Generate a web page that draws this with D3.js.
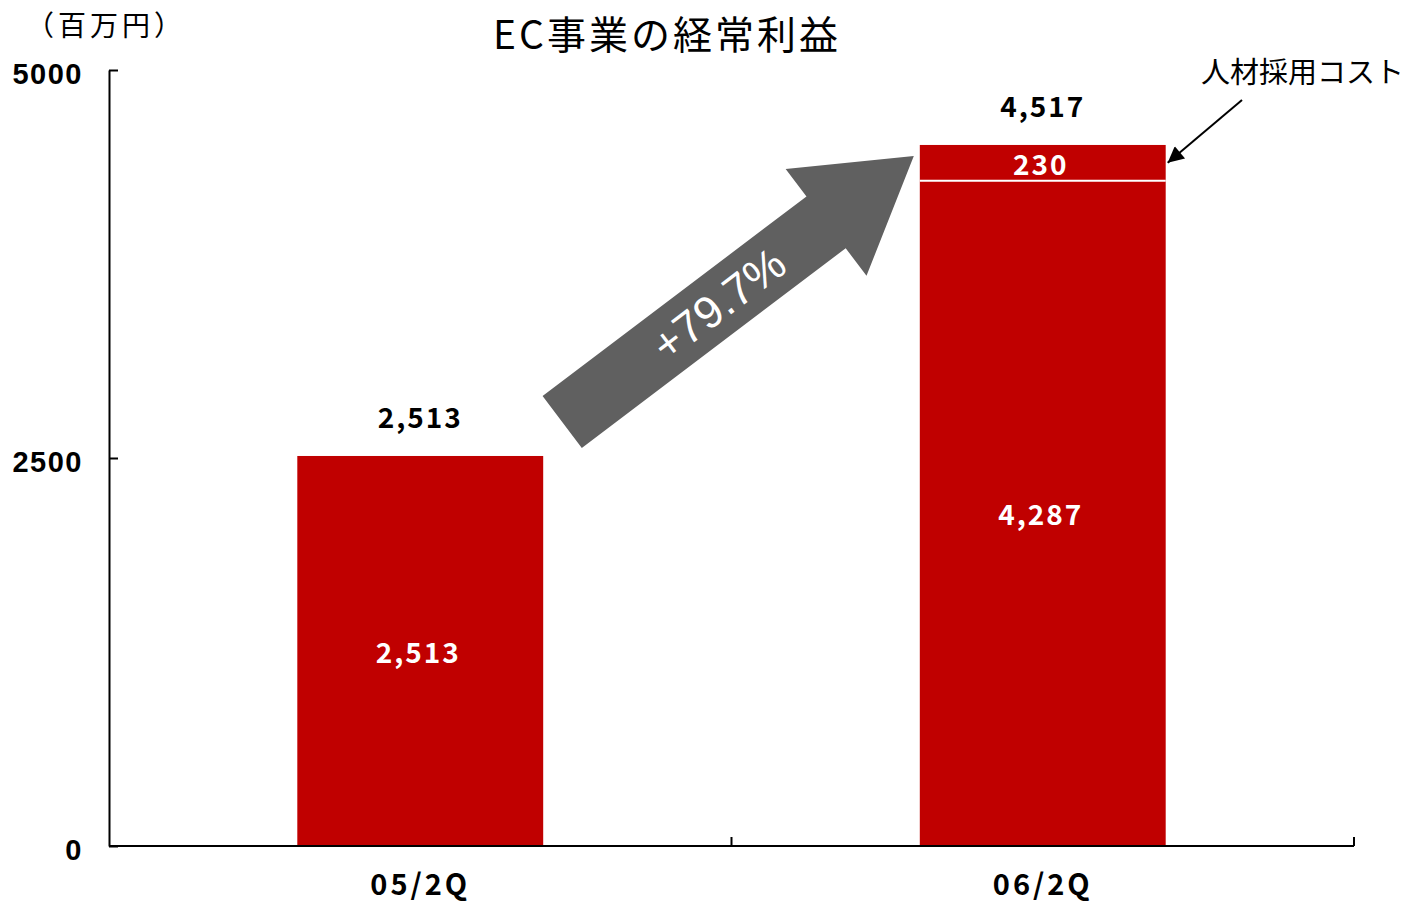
<!DOCTYPE html>
<html>
<head>
<meta charset="utf-8">
<script src="https://cdn.jsdelivr.net/npm/d3@7"></script>
<style>
  html, body { margin: 0; padding: 0; background: #fff; }
  svg { display: block; }
</style>
</head>
<body>
<svg id="chart" width="1406" height="904"></svg>
<script>
// Ordinary profit of the EC business (million yen)
const categories = ["05/2Q", "06/2Q"];
const baseProfit = [2513, 4287];      // profit excluding recruitment cost
const recruitCost = [0, 230];         // recruitment cost stacked on top
const totalProfit = [2513, 4517];     // labels above bars
const yTicks = [0, 2500, 5000];
const growthLabel = "+79.7%";
const title = "EC事業の経常利益";
const unitLabel = "（百万円）";
const costNote = "人材採用コスト";

const RED = "#c00000";
const GREY = "#606060";
const JP = "'Noto Sans CJK JP', 'Noto Sans', sans-serif";
const NUM = "'Noto Sans CJK JP', 'Liberation Sans', sans-serif";

const svg = d3.select("#chart");

const x = d3.scaleBand()
  .domain(categories)
  .range([109, 1354])
  .paddingInner(0.605)
  .paddingOuter(0.3025);

const y = d3.scaleLinear().domain([0, 5000]).range([846, 70]);

// Title and unit
svg.append("text")
  .attr("x", 667).attr("y", 49)
  .attr("text-anchor", "middle")
  .attr("font-family", JP).attr("font-size", 39)
  .attr("letter-spacing", 3)
  .text(title);

svg.append("text")
  .attr("x", 26).attr("y", 36)
  .attr("font-family", JP).attr("font-size", 28)
  .attr("letter-spacing", 4)
  .text(unitLabel);

// Stacked bars
const rows = categories.map((c, i) => ({ c, base: baseProfit[i], cost: recruitCost[i], total: totalProfit[i] }));

const g = svg.append("g");

g.selectAll("rect.base").data(rows).join("rect")
  .attr("class", "base")
  .attr("x", d => x(d.c))
  .attr("width", x.bandwidth())
  .attr("y", d => y(d.base))
  .attr("height", d => y(0) - y(d.base))
  .attr("fill", RED);

g.selectAll("rect.cost").data(rows.filter(d => d.cost > 0)).join("rect")
  .attr("class", "cost")
  .attr("x", d => x(d.c))
  .attr("width", x.bandwidth())
  .attr("y", d => y(d.base + d.cost))
  .attr("height", d => y(d.base) - y(d.base + d.cost))
  .attr("fill", RED);

// white separator between the segments
g.selectAll("line.sep").data(rows.filter(d => d.cost > 0)).join("line")
  .attr("class", "sep")
  .attr("x1", d => x(d.c)).attr("x2", d => x(d.c) + x.bandwidth())
  .attr("y1", d => y(d.base)).attr("y2", d => y(d.base))
  .attr("stroke", "#fff").attr("stroke-width", 2);

const fmt = d3.format(",");

// labels inside segments
g.selectAll("text.in-base").data(rows).join("text")
  .attr("x", d => x(d.c) + x.bandwidth() / 2 - 2)
  .attr("y", d => (y(0) + y(d.base)) / 2 + 12)
  .attr("text-anchor", "middle")
  .attr("fill", "#fff")
  .attr("font-family", NUM).attr("font-weight", "bold").attr("font-size", 28)
  .attr("letter-spacing", 2)
  .text(d => fmt(d.base));

g.selectAll("text.in-cost").data(rows.filter(d => d.cost > 0)).join("text")
  .attr("x", d => x(d.c) + x.bandwidth() / 2 - 2)
  .attr("y", d => (y(d.base) + y(d.base + d.cost)) / 2 + 12)
  .attr("text-anchor", "middle")
  .attr("fill", "#fff")
  .attr("font-family", NUM).attr("font-weight", "bold").attr("font-size", 28)
  .attr("letter-spacing", 2)
  .text(d => fmt(d.cost));

// totals above bars
g.selectAll("text.total").data(rows).join("text")
  .attr("x", d => x(d.c) + x.bandwidth() / 2)
  .attr("y", d => y(d.total) - 28)
  .attr("text-anchor", "middle")
  .attr("fill", "#000")
  .attr("font-family", NUM).attr("font-weight", "bold").attr("font-size", 28)
  .attr("letter-spacing", 2)
  .text(d => fmt(d.total));

// Y axis
const yAxis = d3.axisLeft(y)
  .tickValues(yTicks)
  .tickSizeInner(-9)
  .tickSizeOuter(0)
  .tickPadding(26)
  .tickFormat(d3.format("d"));

const ya = svg.append("g").attr("transform", `translate(${x.range()[0]},0)`).call(yAxis);
ya.select(".domain").attr("stroke", "#000").attr("stroke-width", 2);
ya.selectAll(".tick line").attr("stroke", "#000").attr("stroke-width", 2);
ya.selectAll(".tick text")
  .attr("font-family", "'Liberation Sans', Arial, sans-serif")
  .attr("font-weight", "bold").attr("font-size", 29)
  .attr("letter-spacing", 1.5)
  .attr("dy", "0.45em")
  .attr("fill", "#000");

// X axis: baseline with ticks at category boundaries
const step = x.step();
const bounds = categories.map(c => x(c) - (step - x.bandwidth()) / 2);
bounds.push(bounds[bounds.length - 1] + step);

svg.append("line")
  .attr("x1", x.range()[0]).attr("x2", x.range()[1])
  .attr("y1", y(0)).attr("y2", y(0))
  .attr("stroke", "#000").attr("stroke-width", 2);

svg.selectAll("line.xtick").data(bounds.slice(1)).join("line")
  .attr("x1", d => d).attr("x2", d => d)
  .attr("y1", y(0)).attr("y2", y(0) - 9)
  .attr("stroke", "#000").attr("stroke-width", 2);

svg.selectAll("text.cat").data(categories).join("text")
  .attr("x", c => x(c) + x.bandwidth() / 2)
  .attr("y", 895)
  .attr("text-anchor", "middle")
  .attr("font-family", NUM).attr("font-weight", "bold").attr("font-size", 29)
  .attr("letter-spacing", 3)
  .text(c => c);

// Growth arrow from the first bar to the second
const tail = [x(categories[0]) + x.bandwidth() + 19, y(totalProfit[0]) - 34];
const tip = [x(categories[1]) - 6, y(totalProfit[1]) + 11];
const dx = tip[0] - tail[0], dy = tip[1] - tail[1];
const len = Math.hypot(dx, dy);
const ang = Math.atan2(dy, dx) * 180 / Math.PI;
const shaftW = 65, headW = 134, headL = 110;

const arrowG = svg.append("g")
  .attr("transform", `translate(${tail[0]},${tail[1]}) rotate(${ang})`);

arrowG.append("path")
  .attr("d", d3.line()([
    [0, -shaftW / 2],
    [len - headL, -shaftW / 2],
    [len - headL, -headW / 2],
    [len, 0],
    [len - headL, headW / 2],
    [len - headL, shaftW / 2],
    [0, shaftW / 2]
  ]) + "Z")
  .attr("fill", GREY);

arrowG.append("text")
  .attr("x", 196).attr("y", 16)
  .attr("text-anchor", "middle")
  .attr("fill", "#fff")
  .attr("font-family", "'Liberation Sans', Arial, sans-serif")
  .attr("font-size", 45)
  .text(growthLabel);

// Callout for the recruitment cost segment
const calloutTip = [x(categories[1]) + x.bandwidth() + 2, y(baseProfit[1] + recruitCost[1] / 2)];
const calloutStart = [1242, 100];

svg.append("defs").append("marker")
  .attr("id", "ah")
  .attr("viewBox", "0 0 10 10")
  .attr("refX", 10).attr("refY", 5)
  .attr("markerWidth", 22).attr("markerHeight", 16)
  .attr("markerUnits", "userSpaceOnUse")
  .attr("orient", "auto")
  .append("path").attr("d", "M0,0 L10,5 L0,10 Z").attr("fill", "#000");

svg.append("line")
  .attr("x1", calloutStart[0]).attr("y1", calloutStart[1])
  .attr("x2", calloutTip[0]).attr("y2", calloutTip[1])
  .attr("stroke", "#000").attr("stroke-width", 2)
  .attr("marker-end", "url(#ah)");

svg.append("text")
  .attr("x", 1201).attr("y", 83)
  .attr("font-family", JP).attr("font-size", 29)
  .text(costNote);
</script>
</body>
</html>
